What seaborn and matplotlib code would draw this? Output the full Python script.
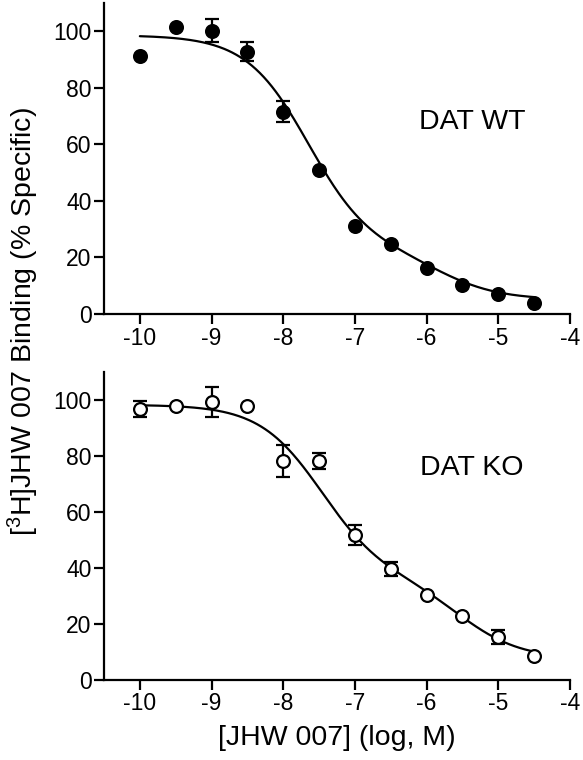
import numpy as np
import pandas as pd
import matplotlib
matplotlib.use("Agg")
import matplotlib.pyplot as plt
import seaborn as sns

# ---- data ----
log_conc = [-10, -9.5, -9, -8.5, -8, -7.5, -7, -6.5, -6, -5.5, -5, -4.5]
wt_mean = [91.2, 101.4, 100.2, 92.8, 71.6, 50.9, 31.1, 24.9, 16.3, 10.3, 7.1, 3.8]
wt_sem = [0.0, 0.0, 4.1, 3.4, 3.6, 0.0, 0.0, 0.0, 0.0, 0.0, 0.0, 0.0]
ko_mean = [96.8, 98.0, 99.4, 98.0, 78.3, 78.3, 51.8, 39.7, 30.4, 22.7, 15.3, 8.7]
ko_sem = [3.0, 0.0, 5.3, 0.0, 5.8, 2.8, 3.6, 2.4, 0.0, 0.0, 2.5, 0.0]

# two-site competition fit parameters: top, bottom, fraction high, logKi high, logKi low
wt_fit = [98.60, 5.08, 0.812, -7.653, -5.797]
ko_fit = [98.30, 7.52, 0.675, -7.468, -5.527]

x_ticks = [-10, -9, -8, -7, -6, -5, -4]
y_ticks = [0, 20, 40, 60, 80, 100]
panel_labels = ["DAT WT", "DAT KO"]

def two_site(p, x):
    T, B, f, c1, c2 = p
    return B + (T - B) * (f / (1 + 10 ** (x - c1)) + (1 - f) / (1 + 10 ** (x - c2)))

sns.set_style("ticks")
plt.rcParams["font.family"] = ["Liberation Sans", "DejaVu Sans"]
plt.rcParams["text.color"] = "black"
plt.rcParams["mathtext.fontset"] = "custom"
plt.rcParams["mathtext.rm"] = "Liberation Sans"
plt.rcParams["mathtext.it"] = "Liberation Sans"
plt.rcParams["mathtext.bf"] = "Liberation Sans:bold"

fig = plt.figure(figsize=(5.83, 7.6), dpi=100)
ax_top = fig.add_axes([104 / 583, 1 - 314 / 760, 466 / 583, 311 / 760])
ax_bot = fig.add_axes([104 / 583, 1 - 680 / 760, 466 / 583, 308 / 760])

xs = np.linspace(-10, -4.5, 300)
panels = [
    (ax_top, wt_mean, wt_sem, wt_fit, "black", panel_labels[0], 122),
    (ax_bot, ko_mean, ko_sem, ko_fit, "white", panel_labels[1], 468),
]
for ax, mean, sem, fit, face, label, ty in panels:
    df = pd.DataFrame({"x": log_conc, "y": mean, "sem": sem})
    curve = pd.DataFrame({"x": xs, "y": two_site(fit, xs)})
    sns.lineplot(data=curve, x="x", y="y", ax=ax, color="black", lw=1.6, zorder=2)
    e = df[df["sem"] > 0]
    ax.errorbar(e["x"], e["y"], yerr=e["sem"], fmt="none", ecolor="black",
                elinewidth=1.6, capsize=5, capthick=1.6, zorder=3)
    sns.scatterplot(data=df, x="x", y="y", ax=ax, s=85, color=face,
                    edgecolor="black", linewidth=1.6, zorder=4, legend=False)
    ax.set_xlim(-10.5, -4)
    ax.set_ylim(0, 110)
    ax.set_xticks(x_ticks)
    ax.set_xticklabels([str(v) for v in x_ticks])
    ax.set_yticks(y_ticks)
    ax.set_xlabel("")
    ax.set_ylabel("")
    for sp in ["top", "right"]:
        ax.spines[sp].set_visible(False)
    for sp in ["left", "bottom"]:
        ax.spines[sp].set_linewidth(1.6)
        ax.spines[sp].set_color("black")
    ax.tick_params(axis="both", direction="out", length=7, width=1.6,
                   labelsize=16.5, pad=2, colors="black")
    fig.text(472 / 583, 1 - ty / 760, label, fontsize=20.5, ha="center",
             va="center", color="black")

fig.text(23 / 583, 1 - 322 / 760, r"[$^3$H]JHW 007 Binding (% Specific)",
         rotation=90, fontsize=20.5, ha="center", va="center", color="black")
fig.text(337 / 583, 1 - 738 / 760, "[JHW 007] (log, M)", fontsize=20.5,
         ha="center", va="center", color="black")

fig.savefig("out.png", dpi=100)
